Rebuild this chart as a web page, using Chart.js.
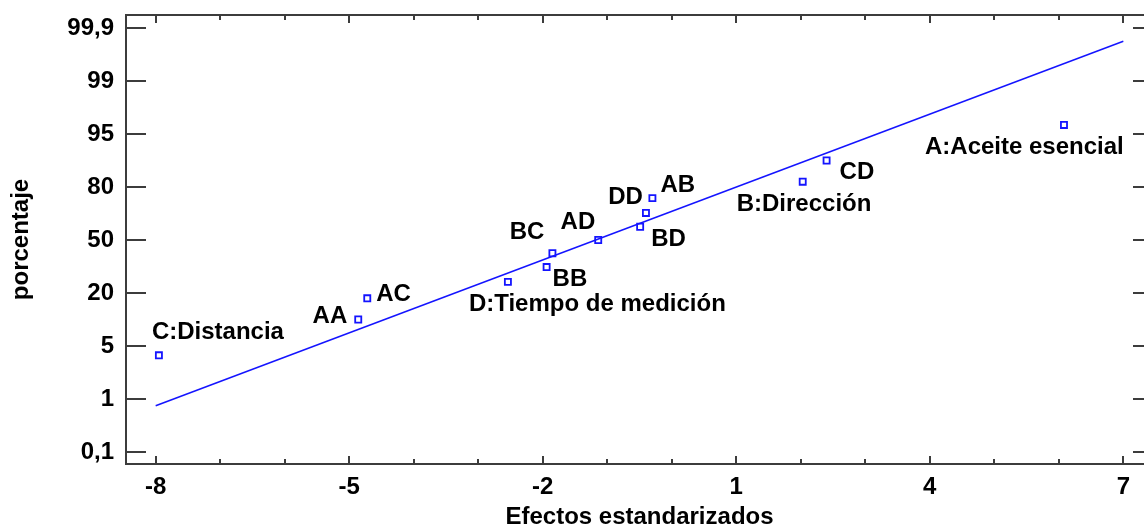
<!DOCTYPE html>
<html>
<head>
<meta charset="utf-8">
<script src="https://cdn.jsdelivr.net/npm/chart.js@4/dist/chart.umd.min.js"></script>
<style>
  html, body { margin: 0; padding: 0; background: #fff; overflow: hidden; }
  #plot { display: block; }
</style>
</head>
<body>
<canvas id="plot" width="1160" height="540" style="width:1160px;height:540px"></canvas>
<script>
// Normal probability plot of the standardized effects
const effectNames = ['C:Distancia', 'AA', 'AC', 'D:Tiempo de medición', 'BB', 'BC', 'AD',
                     'BD', 'DD', 'AB', 'B:Dirección', 'CD', 'A:Aceite esencial'];
const standardizedEffects = [-7.95, -4.86, -4.72, -2.54, -1.94, -1.85, -1.14,
                             -0.49, -0.40, -0.30, 2.03, 2.40, 6.08];
// position on the probability scale (0 = 0,1 % ... 8 = 99,9 %)
const probabilityPosition = [1.825, 2.50, 2.90, 3.21, 3.49, 3.75, 4.00,
                             4.25, 4.51, 4.79, 5.10, 5.50, 6.17];
// reference line of the plot
const fitLineX = [-8, 7];
const fitLineY = [0.874, 7.749];
// axis ticks
const xTickValues = [-8, -5, -2, 1, 4, 7];
const yTickLabels = ['0,1', '1', '5', '20', '50', '80', '95', '99', '99,9'];

// label placement around each point: [dx, dy, align]
const labelPlacement = [
  [-7, -25, 'left'], [-11, -6, 'right'], [9, -6, 'left'], [-39, 20, 'left'],
  [6, 10, 'left'], [-8, -23, 'right'], [-3, -20, 'right'], [11, 10, 'left'],
  [-3, -18, 'right'], [8, -15, 'left'], [-66, 20, 'left'], [13, 10, 'left'],
  [-139, 20, 'left']
];

const FONT = '"Liberation Sans", Arial, sans-serif';
const FRAME = '#3c3c3c';
const BLUE = '#1414ff';

const framePlugin = {
  id: 'frame',
  afterDatasetsDraw(chart) {
    const { ctx, chartArea: a, scales: { x, y } } = chart;
    ctx.save();
    ctx.strokeStyle = FRAME;
    ctx.lineWidth = 2;
    ctx.strokeRect(a.left, a.top, a.right - a.left, a.bottom - a.top);
    ctx.beginPath();
    // x ticks: major every 3 units, minor at every integer, top and bottom, pointing inward
    for (let v = Math.ceil(x.min); v <= Math.floor(x.max); v++) {
      const px = Math.round(x.getPixelForValue(v));
      const len = xTickValues.includes(v) ? 8 : 5;
      ctx.moveTo(px, a.bottom); ctx.lineTo(px, a.bottom - len);
      ctx.moveTo(px, a.top); ctx.lineTo(px, a.top + len);
    }
    // y ticks on both sides
    yTickLabels.forEach((_, i) => {
      const py = Math.round(y.getPixelForValue(i));
      ctx.moveTo(a.left, py); ctx.lineTo(a.left + 20, py);
      ctx.moveTo(a.right, py); ctx.lineTo(a.right - 20, py);
    });
    ctx.stroke();

    // effect labels
    const meta = chart.getDatasetMeta(1);
    ctx.fillStyle = '#000';
    ctx.font = 'bold 24px ' + FONT;
    ctx.textBaseline = 'alphabetic';
    meta.data.forEach((pt, i) => {
      const [dx, dy, align] = labelPlacement[i];
      ctx.textAlign = align;
      ctx.fillText(effectNames[i], pt.x + dx, pt.y + dy + 9);
    });
    ctx.restore();
  }
};

new Chart(document.getElementById('plot'), {
  data: {
    datasets: [
      {
        type: 'line',
        data: fitLineX.map((v, i) => ({ x: v, y: fitLineY[i] })),
        borderColor: BLUE,
        borderWidth: 1.5,
        pointRadius: 0,
        fill: false,
        order: 2
      },
      {
        type: 'scatter',
        data: standardizedEffects.map((v, i) => ({ x: v, y: probabilityPosition[i] })),
        pointStyle: 'rect',
        pointRadius: 4.3,
        borderWidth: 1.8,
        borderColor: BLUE,
        backgroundColor: 'rgba(255,255,255,0)',
        order: 1
      }
    ]
  },
  options: {
    responsive: false,
    animation: false,
    devicePixelRatio: 1,
    layout: { autoPadding: false, padding: { top: 15, right: 7, left: 0, bottom: 0 } },
    plugins: { legend: { display: false }, tooltip: { enabled: false } },
    scales: {
      x: {
        type: 'linear',
        position: 'bottom',
        min: -8.46,
        max: 7.46,
        afterFit: s => { s.height = 76; s.paddingLeft = 0; s.paddingRight = 0; },
        afterBuildTicks: s => { s.ticks = xTickValues.map(v => ({ value: v })); },
        grid: { display: false, drawTicks: false },
        border: { display: false },
        ticks: {
          autoSkip: false, maxRotation: 0, padding: 9, color: '#000',
          font: { family: FONT, size: 24, weight: 'bold' }
        },
        title: {
          display: true, text: 'Efectos estandarizados', color: '#000',
          font: { family: FONT, size: 24, weight: 'bold' },
          padding: { top: 0, bottom: 8 }
        }
      },
      y: {
        type: 'linear',
        min: -0.226,
        max: 8.245,
        afterFit: s => { s.width = 126; s.paddingTop = 0; s.paddingBottom = 0; },
        afterBuildTicks: s => { s.ticks = yTickLabels.map((_, i) => ({ value: i })); },
        grid: { display: false, drawTicks: false },
        border: { display: false },
        ticks: {
          autoSkip: false, padding: 12, color: '#000',
          font: { family: FONT, size: 24, weight: 'bold' },
          callback: v => yTickLabels[v]
        },
        title: {
          display: true, text: 'porcentaje', color: '#000',
          font: { family: FONT, size: 24, weight: 'bold' },
          padding: { top: 7, bottom: 0 }
        }
      }
    }
  },
  plugins: [framePlugin]
});
</script>
</body>
</html>
